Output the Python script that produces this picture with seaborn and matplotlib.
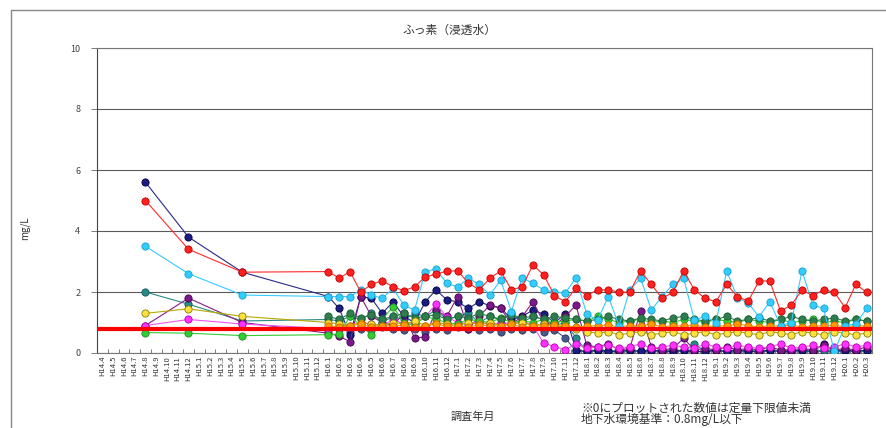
import numpy as np
import pandas as pd
import matplotlib
matplotlib.use("Agg")
import matplotlib.pyplot as plt
import seaborn as sns
from matplotlib.lines import Line2D

# ---------------- data ----------------
categories = [
    "H14.4", "H14.5", "H14.6", "H14.7", "H14.8", "H14.9", "H14.10", "H14.11", "H14.12",
    "H15.1", "H15.2", "H15.3", "H15.4", "H15.5", "H15.6", "H15.7", "H15.8", "H15.9", "H15.10", "H15.11", "H15.12",
    "H16.1", "H16.2", "H16.3", "H16.4", "H16.5", "H16.6", "H16.7", "H16.8", "H16.9", "H16.10", "H16.11", "H16.12",
    "H17.1", "H17.2", "H17.3", "H17.4", "H17.5", "H17.6", "H17.7", "H17.8", "H17.9", "H17.10", "H17.11", "H17.12",
    "H18.1", "H18.2", "H18.3", "H18.4", "H18.5", "H18.6", "H18.7", "H18.8", "H18.9", "H18.10", "H18.11", "H18.12",
    "H19.1", "H19.2", "H19.3", "H19.4", "H19.5", "H19.6", "H19.7", "H19.8", "H19.9", "H19.10", "H19.11", "H19.12",
    "H20.1", "H20.2", "H20.3",
]

sample_dates = [
    "H14.8", "H14.12", "H15.5",
    "H16.1", "H16.2", "H16.3", "H16.4", "H16.5", "H16.6", "H16.7", "H16.8", "H16.9", "H16.10", "H16.11", "H16.12",
    "H17.1", "H17.2", "H17.3", "H17.4", "H17.5", "H17.6", "H17.7", "H17.8", "H17.9", "H17.10", "H17.11", "H17.12",
    "H18.1", "H18.2", "H18.3", "H18.4", "H18.5", "H18.6", "H18.7", "H18.8", "H18.9", "H18.10", "H18.11", "H18.12",
    "H19.1", "H19.2", "H19.3", "H19.4", "H19.5", "H19.6", "H19.7", "H19.8", "H19.9", "H19.10", "H19.11", "H19.12",
    "H20.1", "H20.2", "H20.3",
]

navy = [5.6, 3.8, 2.65,
        1.85, 1.46, 0.6, 1.85, 1.79, 1.3, 1.68, 1.2, 1.0, 1.68,
        2.07, 1.74, 1.68, 1.46, 1.68, 1.55, 1.49, 1.1, 1.2, 1.41,
        1.27, 1.0, 1.27, 0.1, 0.05, 0.1, 0.05, 0.05, 0.1, 0.05,
        0.1, 0.05, 0.05, 0.1, 0.05, 0.05, 0.1, 0.05, 0.1, 0.05,
        0.05, 0.1, 0.05, 0.05, 0.1, 0.05, 0.3, 0.05, 0.1, 0.05, 0.1]
red = [5.0, 3.4, 2.65,
       2.67, 2.45, 2.67, 2.0, 2.25, 2.37, 2.17, 2.04, 2.17, 2.5,
       2.58, 2.69, 2.69, 2.3, 2.07, 2.45, 2.69, 2.07, 2.17, 2.89,
       2.56, 1.88, 1.68, 2.14, 1.88, 2.07, 2.07, 1.99, 2.0, 2.69,
       2.25, 1.79, 1.99, 2.69, 2.07, 1.79, 1.68, 2.25, 1.85, 1.7,
       2.36, 2.36, 1.38, 1.57, 2.07, 1.88, 2.07, 1.99, 1.49, 2.25, 1.99]
cyan = [3.5, 2.6, 1.9,
        1.85, 1.85, 1.85, 2.07, 1.9, 1.79, 2.12, 1.57, 1.41, 2.67,
        2.75, 2.28, 2.17, 2.45, 2.25, 1.9, 2.39, 1.36, 2.47, 2.28,
        2.07, 2.0, 1.96, 2.47, 1.27, 1.08, 1.85, 0.9, 2.07, 2.45,
        1.41, 1.85, 2.25, 2.45, 1.08, 1.2, 1.0, 2.69, 1.81, 1.63,
        1.19, 1.68, 0.9, 1.0, 2.69, 1.57, 1.46, 0.05, 0.9, 0.95, 1.46]
teal = [2.0, 1.6, 1.05,
        1.1, 1.05, 1.2, 1.1, 1.3, 1.0, 1.2, 1.1, 1.3, 1.2,
        1.4, 1.1, 1.2, 1.3, 1.0, 1.2, 1.1, 1.3, 1.0, 1.2,
        1.1, 0.9, 1.0, 0.5, 0.05, 0.1, 0.05, 0.1, 0.05, 0.05,
        0.1, 0.05, 0.1, 0.05, 0.3, 0.05, 0.1, 0.05, 0.05, 0.1,
        0.05, 0.1, 0.05, 0.1, 0.05, 0.05, 0.1, 0.05, 0.1, 0.05, 0.05]
olive = [1.3, 1.45, 1.2,
         1.0, 0.95, 0.9, 1.0, 0.95, 0.9, 1.0, 0.95, 1.05, 0.9,
         1.0, 0.95, 0.9, 1.0, 0.95, 1.0, 0.9, 0.95, 1.0, 0.9,
         0.95, 0.9, 0.85, 0.8, 0.7, 0.65, 0.7, 0.6, 0.65, 0.7,
         0.6, 0.65, 0.7, 0.6, 0.65, 0.7, 0.6, 0.65, 0.7, 0.65,
         0.6, 0.7, 0.65, 0.6, 0.7, 0.65, 0.6, 0.7, 0.65, 0.6, 0.65]
purple = [0.9, 1.8, 1.0,
          0.65, 0.55, 0.37, 1.85, 1.2, 1.0, 0.9, 1.3, 0.49, 0.53,
          1.4, 1.2, 1.85, 0.78, 1.2, 1.57, 1.46, 0.95, 1.19, 1.68,
          1.0, 0.9, 1.2, 1.57, 0.25, 0.2, 0.3, 0.1, 0.15, 1.38,
          0.2, 0.1, 0.15, 0.48, 0.1, 0.15, 0.1, 0.2, 0.1, 0.15,
          0.1, 0.2, 0.1, 0.1, 0.15, 0.1, 0.25, 0.1, 0.15, 0.1, 0.2]
magenta = [0.9, 1.1, 0.95,
           0.8, 0.9, 0.85, 1.0, 0.95, 0.9, 1.1, 0.95, 1.0, 1.2,
           1.6, 1.19, 1.0, 0.95, 1.05, 0.9, 1.0, 0.95, 1.05, 0.9,
           0.32, 0.21, 0.1, 0.3, 0.15, 0.2, 0.25, 0.15, 0.2, 0.3,
           0.15, 0.2, 0.25, 0.2, 0.15, 0.3, 0.2, 0.15, 0.25, 0.2,
           0.15, 0.2, 0.3, 0.15, 0.2, 0.25, 0.15, 0.2, 0.3, 0.2, 0.25]
green = [0.67, 0.65, 0.57,
         0.6, 0.62, 1.2, 0.9, 0.59, 1.1, 1.52, 1.0, 0.9, 1.2,
         1.1, 1.0, 0.95, 1.1, 1.05, 1.0, 1.15, 1.0, 1.05, 1.0,
         1.1, 1.0, 1.05, 1.1, 1.05, 1.2, 1.1, 1.0, 1.05, 1.1,
         1.0, 1.05, 1.0, 1.1, 1.05, 1.0, 1.1, 1.05, 1.0, 1.1,
         1.05, 1.0, 1.1, 1.0, 1.05, 1.1, 1.0, 1.05, 1.0, 1.1, 1.05]
darkgreen = [None, None, None,
             1.2, 1.1, 1.3, 1.15, 1.25, 1.1, 1.2, 1.3, 1.15, 1.2,
             1.25, 1.1, 1.2, 1.15, 1.3, 1.2, 1.1, 1.25, 1.15, 1.2,
             1.1, 1.2, 1.15, 1.1, 1.05, 1.1, 1.2, 1.1, 1.05, 1.15,
             1.1, 1.05, 1.15, 1.2, 1.1, 1.05, 1.1, 1.2, 1.05, 1.1,
             1.15, 1.05, 1.1, 1.2, 1.1, 1.05, 1.1, 1.15, 1.05, 1.1, 1.05]
orange = [None, None, None,
          0.9, 0.85, 0.9, 0.95, 0.85, 0.9, 0.88, 0.92, 0.85, 0.9,
          0.95, 0.88, 0.9, 0.85, 0.92, 0.9, 0.88, 0.95, 0.85, 0.9,
          0.88, 0.92, 0.9, 0.85, 0.88, 0.9, 0.92, 0.85, 0.9, 0.88,
          0.95, 0.85, 0.9, 0.88, 0.92, 0.85, 0.9, 0.88, 0.95, 0.9,
          0.85, 0.9, 0.88, 0.92, 0.85, 0.9, 0.88, 0.92, 0.85, 0.9, 0.88]
slate = [None, None, None,
         0.75, 0.8, 0.7, 0.8, 0.75, 0.85, 0.8, 0.75, 0.8, 0.7,
         0.8, 0.75, 0.85, 0.8, 0.75, 0.8, 0.7, 0.8, 0.75, 0.8,
         0.7, 0.75, 0.5, 0.05, 0.04, 0.06, 0.05, 0.03, 0.05, 0.06,
         0.04, 0.05, 0.03, 0.06, 0.05, 0.04, 0.05, 0.06, 0.03, 0.05,
         0.04, 0.06, 0.05, 0.03, 0.05, 0.04, 0.06, 0.05, 0.04, 0.05, 0.06]

env_standard = 0.8

title = "ふっ素（浸透水）"
ylabel = "mg/L"
xlabel = "調査年月"
note1 = "※0にプロットされた数値は定量下限値未満"
note2 = "地下水環境基準：0.8mg/L以下"

# ---------------- styling ----------------
series = [
    ("slate", slate, "#4a5a88", "#4a5a88", "#2c3860"),
    ("teal", teal, "#2a8a8a", "#2a8a8a", "#105858"),
    ("navy", navy, "#2a2a8a", "#1c1c80", "#000040"),
    ("purple", purple, "#8a1a8a", "#7a1a8a", "#4a004a"),
    ("magenta", magenta, "#ee55ee", "#ff33ff", "#b000b0"),
    ("green", green, "#33cc33", "#33cc33", "#1f8f1f"),
    ("darkgreen", darkgreen, "#2e7d4f", "#2e7d4f", "#1b5e30"),
    ("olive", olive, "#b8a800", "#ffe040", "#808000"),
    ("orange", orange, "#ff9900", "#ff9900", "#cc6600"),
    ("cyan", cyan, "#33ccff", "#33ccff", "#1a9fcc"),
    ("red", red, "#ff2a2a", "#ff2020", "#c00000"),
]

sns.set_theme(style="white")
plt.rcParams["font.family"] = ["Noto Sans CJK JP", "DejaVu Sans"]

W, H = 887, 428
fig = plt.figure(figsize=(W / 100, H / 100), dpi=100)
ax = fig.add_axes([97 / W, 1 - 353 / H, (872 - 97) / W, (353 - 48) / H])

xpos = [categories.index(d) for d in sample_dates]

for i, (name, vals, lc, fc, ec) in enumerate(series):
    df = pd.DataFrame({"x": xpos, "y": pd.array(vals, dtype="Float64").astype(float)})
    df = df.dropna()
    sns.lineplot(data=df, x="x", y="y", ax=ax, color=lc, linewidth=0.8,
                 marker="o", markersize=5.2, markerfacecolor=fc,
                 markeredgecolor=ec, markeredgewidth=0.6,
                 legend=False, zorder=3 + i * 0.1, estimator=None, sort=False)

ax.axhline(env_standard, color="#ff0000", linewidth=3.0, zorder=4.5)

ax.set_xlim(-0.5, len(categories) - 0.5)
ax.set_ylim(0, 10)
ax.set_yticks([0, 2, 4, 6, 8, 10])
ax.set_yticklabels(["0", "2", "4", "6", "8", "10"])
ax.set_xticks(range(len(categories)))
ax.set_xticklabels(categories, rotation=90, fontsize=5.5, color="#333333")
ax.set_xticks(np.arange(-0.5, len(categories), 1), minor=True)
ax.tick_params(axis="x", which="major", length=0, pad=2)
ax.tick_params(axis="x", which="minor", length=3, direction="in", color="#666666", width=0.6, bottom=True)
ax.tick_params(axis="y", length=4, direction="out", color="#666666", width=0.6,
               labelsize=6.5, labelcolor="#444444", pad=8, left=True)
ax.set_xlabel("")
ax.set_ylabel("")

ax.yaxis.grid(True, color="#5a5a5a", linewidth=0.8)
ax.xaxis.grid(False)
ax.set_axisbelow(True)
for side, sp in ax.spines.items():
    sp.set_visible(True)
    sp.set_color("#777777")
    sp.set_linewidth(0.8)
ax.spines["left"].set_color("#444444")

# texts
fig.text(450 / W, 1 - 30 / H, title, ha="center", va="center", fontsize=8.5, color="#333333")
fig.text(25 / W, 1 - 228 / H, ylabel, rotation=90, ha="center", va="center", fontsize=7, color="#333333")
fig.text(473 / W, 1 - 417 / H, xlabel, ha="center", va="center", fontsize=8, color="#333333")
fig.text(581 / W, 1 - 408 / H, note1, ha="left", va="center", fontsize=8.5, color="#333333")
fig.text(581 / W, 1 - 420 / H, note2, ha="left", va="center", fontsize=8.5, color="#333333")

# outer chart border
fig.add_artist(Line2D([11 / W, 1.0], [1 - 10 / H, 1 - 10 / H], color="#888888", linewidth=1.0))
fig.add_artist(Line2D([11 / W, 11 / W], [1 - 10 / H, 0.0], color="#888888", linewidth=1.0))

fig.savefig("out.png", dpi=100)
